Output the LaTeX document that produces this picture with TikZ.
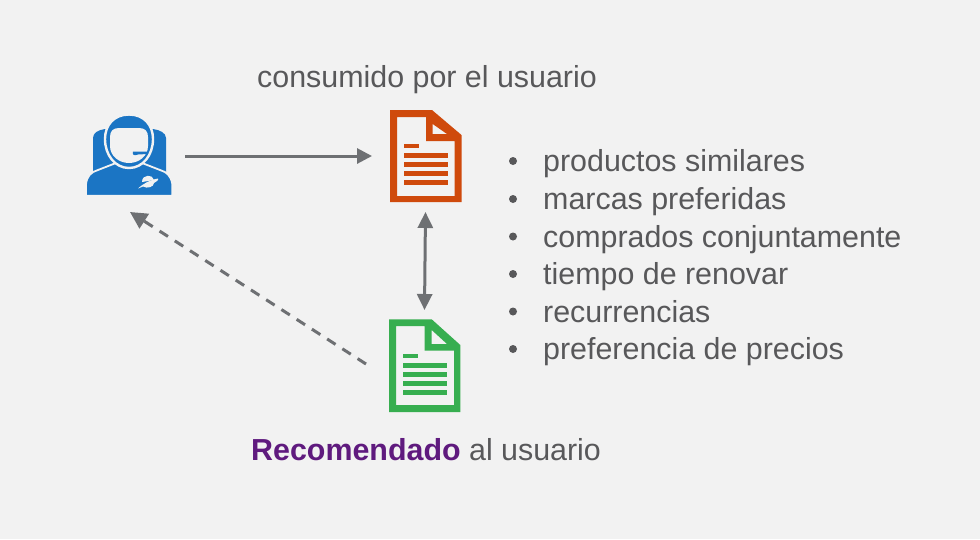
\documentclass[tikz,border=0pt]{standalone}
\usepackage{fontspec}
\setmainfont{Liberation Sans}
\usetikzlibrary{arrows.meta}
\definecolor{bgc}{HTML}{F2F2F2}
\definecolor{txt}{HTML}{58585A}
\definecolor{arr}{HTML}{6E7073}
\definecolor{blu}{HTML}{1B75C4}
\definecolor{org}{HTML}{CF4A0C}
\definecolor{grn}{HTML}{37AE50}
\definecolor{pur}{HTML}{5F1A7E}
\tikzset{
  lab/.style={inner sep=0pt,anchor=base west,text=txt,font=\fontsize{30.4}{30}\selectfont},
  bul/.style={inner sep=0pt,anchor=base west,text=txt,font=\fontsize{30.4}{30}\selectfont},
  dot/.style={circle,fill=txt,inner sep=0pt,minimum size=8pt},
  con/.style={draw=arr,line width=3pt,-{Triangle[length=15pt,width=15pt]}},
}
\begin{document}
\begin{tikzpicture}[x=1pt,y=-1pt]
\useasboundingbox (0,0) rectangle (980,539);
\fill[bgc] (0,0) rectangle (980,539);
% anchors
\coordinate (userR) at (185,156);
\coordinate (docAL) at (372,156);
\coordinate (docAB) at (425.5,212);
\coordinate (docBT) at (424.5,310);
\coordinate (docBL) at (366,364);
\coordinate (userB) at (130,212);
% user icon
\fill[blu] (93,172) -- (93,138) .. controls (93,133) and (98,130) .. (105,129) -- (153,129) .. controls (160,130) and (166,133) .. (166,138) -- (166,172) -- cycle;
\path[fill=blu,draw=bgc,line width=1.8pt] (86,195.7) -- (86,184) .. controls (87,176) and (91,172) .. (98,170) -- (116,163) -- (142,163) -- (160,170) .. controls (167,172) and (171,176) .. (172.3,184) -- (172.3,195.7) -- cycle;
\fill[blu,draw=bgc,line width=2.4pt] (129,114.5) .. controls (144,114.5) and (153,125) .. (153,139) .. controls (153,155) and (143,168) .. (129,168) .. controls (115,168) and (105,155) .. (105,139) .. controls (105,125) and (114,114.5) .. (129,114.5) -- cycle;
\fill[bgc] (119,128) -- (139,128) .. controls (145,128) and (148,131) .. (148,137) -- (148,146) .. controls (148,156) and (139,163) .. (129,163) .. controls (119,163) and (110,156) .. (110,146) -- (110,137) .. controls (110,131) and (113,128) .. (119,128) -- cycle;
\fill[blu] (133,151.5) -- (147,151.5) -- (147,154) -- (138,154.5) .. controls (134,156) and (132,155) .. (133,151.5) -- cycle;
\fill[bgc] (142,182) .. controls (142,174) and (153,174) .. (154,180) -- cycle;
\fill[bgc] (138,188.5) .. controls (144,183) and (150,180) .. (158,178.5) .. controls (159,180) and (156,182) .. (154,183) .. controls (154,187) and (147,189) .. (143,186.5) -- cycle;
% orange doc
\fill[org,even odd rule] (390,110) -- (432,110) -- (461.5,135) -- (461.5,202) -- (390,202) -- cycle
  (397,117) -- (426,117) -- (426,141) -- (454.5,141) -- (454.5,196) -- (397,196) -- cycle
  (432.7,124) -- (447,134) -- (432.7,134) -- cycle;
\foreach \y in {155,164,173.5,182.5} \fill[org] (404,\y-2.5) rectangle (448,\y+2.5);
\fill[org] (404,143.5) rectangle (419,148.3);
% green doc
\fill[grn,even odd rule] (389,319.3) -- (431.7,319.3) -- (460.3,345) -- (460.3,412) -- (389,412) -- cycle
  (396,326) -- (424.5,326) -- (424.5,350.7) -- (454,350.7) -- (454,405) -- (396,405) -- cycle
  (431.7,330) -- (447,344) -- (431.7,344) -- cycle;
\foreach \y in {365,374,383,392} \fill[grn] (403,\y-2.5) rectangle (447,\y+2.5);
\fill[grn] (403,353.5) rectangle (418,358.3);
% connectors
\draw[con] (userR) -- (docAL);
\draw[draw=arr,line width=3pt,{Triangle[length=16pt,width=15pt]}-{Triangle[length=16pt,width=15pt]}] (docAB) -- (docBT);
\draw[draw=arr,line width=3pt,dash pattern=on 10pt off 8.12pt,-{Triangle[length=17pt,width=17pt]}] (docBL) -- (userB);
% texts
\node[lab] (t1) at (257,87) {consumido por el usuario};
\node[lab] (t2) at (251,460) {\textcolor{pur}{\textbf{Recomendado}} al usuario};
\foreach \i/\y/\s in {1/171.5/productos similares,2/209.5/marcas preferidas,3/247/comprados conjuntamente,4/284.5/tiempo de renovar,5/322/recurrencias,6/359.5/preferencia de precios}{
  \node[dot] (d\i) at (513,\y-10.5) {};
  \node[bul] (b\i) at (543,\y) {\s};
}
\end{tikzpicture}
\end{document}
